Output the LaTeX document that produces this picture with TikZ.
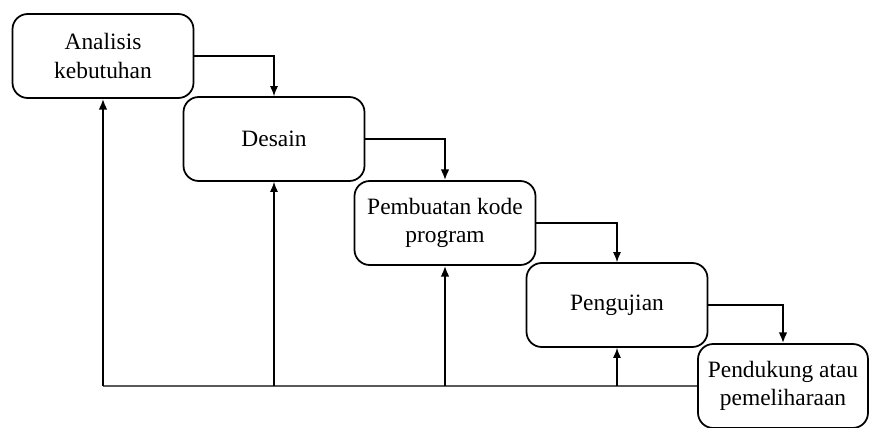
\documentclass[tikz,border=0pt]{standalone}
\usepackage{fontspec}
\setmainfont{Liberation Serif}
\usetikzlibrary{arrows.meta}
\tikzset{
  phase/.style={draw, line width=1.5pt, rounded corners=13pt, minimum width=5.43cm,
    minimum height=2.52cm, align=center, inner sep=2pt,
    font=\fontsize{20}{24}\selectfont},
  flowthin/.style={line width=0.9pt, -{Latex[length=3mm,width=2.4mm]}},
  flowthick/.style={line width=1.7pt, -{Latex[length=3.2mm,width=2.6mm]}},
  baseline/.style={line width=1.7pt, black!65}
}
\begin{document}
\begin{tikzpicture}[x=0.03cm,y=-0.03cm]
  \useasboundingbox (0,0) rectangle (869,428);
  \draw
    (103,56) node[phase] (ana){Analisis\\kebutuhan}
    (274,139) node[phase] (des){Desain}
    (445,223) node[phase] (kod){Pembuatan kode\\program}
    (617,305) node[phase] (uji){Pengujian}
    (783,386) node[phase, minimum width=5.1cm] (pel){Pendukung atau\\pemeliharaan};
  % alur maju
  \draw[flowthin] (ana.east) -| (des.north);
  \draw[flowthick] (des.east) -| (kod.north);
  \draw[flowthin] (kod.east) -| (uji.north);
  \draw[flowthick] (uji.east) -| (pel.north);
  % umpan balik
  \coordinate (b1) at (103,386);
  \coordinate (b2) at (274,386);
  \coordinate (b3) at (445,386);
  \coordinate (b4) at (617,386);
  \draw[baseline] (b1) -- (pel.west);
  \draw[flowthick] (b1) -- (ana.south);
  \draw[flowthin] (b2) -- (des.south);
  \draw[flowthick] (b3) -- (kod.south);
  \draw[flowthin] (b4) -- (uji.south);
\end{tikzpicture}
\end{document}
